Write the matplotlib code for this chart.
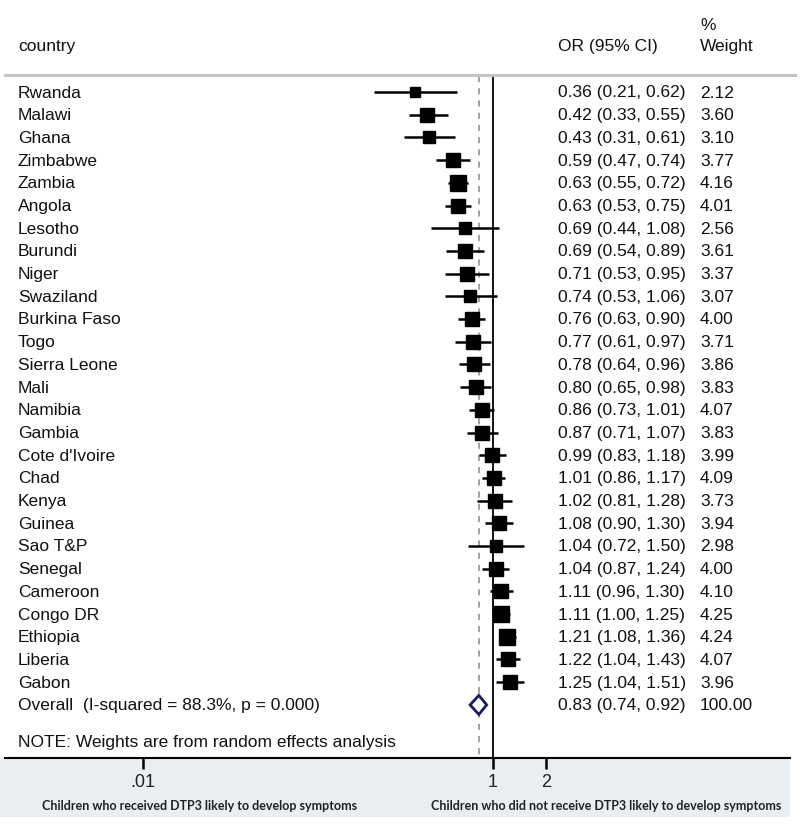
import numpy as np
import matplotlib
matplotlib.use('Agg')
import matplotlib.pyplot as plt
from matplotlib.patches import Polygon, Rectangle
from matplotlib.lines import Line2D
from matplotlib.transforms import blended_transform_factory

plt.rcParams['font.family'] = ['Liberation Sans', 'DejaVu Sans']

countries = ['Rwanda', 'Malawi', 'Ghana', 'Zimbabwe', 'Zambia', 'Angola',
             'Lesotho', 'Burundi', 'Niger', 'Swaziland', 'Burkina Faso',
             'Togo', 'Sierra Leone', 'Mali', 'Namibia', 'Gambia',
             "Cote d'Ivoire", 'Chad', 'Kenya', 'Guinea', 'Sao T&P',
             'Senegal', 'Cameroon', 'Congo DR', 'Ethiopia', 'Liberia',
             'Gabon']
odds = [0.36, 0.42, 0.43, 0.59, 0.63, 0.63, 0.69, 0.69, 0.71, 0.74, 0.76,
        0.77, 0.78, 0.80, 0.86, 0.87, 0.99, 1.01, 1.02, 1.08, 1.04, 1.04,
        1.11, 1.11, 1.21, 1.22, 1.25]
lower = [0.21, 0.33, 0.31, 0.47, 0.55, 0.53, 0.44, 0.54, 0.53, 0.53, 0.63,
         0.61, 0.64, 0.65, 0.73, 0.71, 0.83, 0.86, 0.81, 0.90, 0.72, 0.87,
         0.96, 1.00, 1.08, 1.04, 1.04]
upper = [0.62, 0.55, 0.61, 0.74, 0.72, 0.75, 1.08, 0.89, 0.95, 1.06, 0.90,
         0.97, 0.96, 0.98, 1.01, 1.07, 1.18, 1.17, 1.28, 1.30, 1.50, 1.24,
         1.30, 1.25, 1.36, 1.43, 1.51]
weights = [2.12, 3.60, 3.10, 3.77, 4.16, 4.01, 2.56, 3.61, 3.37, 3.07, 4.00,
           3.71, 3.86, 3.83, 4.07, 3.83, 3.99, 4.09, 3.73, 3.94, 2.98, 4.00,
           4.10, 4.25, 4.24, 4.07, 3.96]
overall = (0.83, 0.74, 0.92)
overall_label = 'Overall  (I-squared = 88.3%, p = 0.000)'
xticks = [0.01, 1, 2]
xtick_labels = ['.01', '1', '2']

W, H = 800, 837
fig = plt.figure(figsize=(W / 100, H / 100), dpi=100)

ax_left, ax_right = 5 / W, 790 / W
ax_w_px, ax_h_px = 785, 759
ax = fig.add_axes([ax_left, (H - 759) / H, ax_right - ax_left, ax_h_px / H])
ax.patch.set_alpha(0)

# light band behind the axis labels
fig.patches.append(Rectangle((0, (H - 818) / H), 790 / W, 59 / H,
                             transform=fig.transFigure, facecolor='#e9eef2',
                             edgecolor='none', zorder=-5))

# 175 px per decade, 1 sits at x=493
ppd = 175.0
ax.set_xscale('log')
ax.set_xlim(10 ** ((5 - 493) / ppd), 10 ** ((790 - 493) / ppd))
row_px = 22.7
ax.set_ylim((759 - 93) / row_px, -93 / row_px)

for s in ['top', 'right', 'left']:
    ax.spines[s].set_visible(False)
ax.spines['bottom'].set_linewidth(1.5)
ax.set_yticks([])
ax.set_xticks(xticks)
ax.set_xticklabels(xtick_labels)
ax.xaxis.set_minor_locator(matplotlib.ticker.NullLocator())
ax.tick_params(axis='x', length=0, pad=11, labelsize=13,
               labelcolor='#222222')
# tick marks below the axis line, drawn at figure level
tick_trans = blended_transform_factory(ax.transData, fig.transFigure)
for t in xticks:
    fig.add_artist(Line2D([t, t], [(H - 759) / H, (H - 770) / H],
                          transform=tick_trans, color='black', lw=1.8,
                          solid_capstyle='butt', zorder=10))

n = len(countries)
rows = np.arange(n)
top_row = -0.72

# reference lines
ax.plot([1, 1], [top_row, ax.get_ylim()[0]], color='black', lw=1.3, zorder=1)
ax.plot([overall[0], overall[0]], [top_row, ax.get_ylim()[0]],
        color='#888888', lw=1.1, ls=(0, (4, 4)), zorder=1)

# study rows
for i in range(n):
    ax.plot([lower[i], upper[i]], [rows[i], rows[i]], color='black',
            lw=1.8, solid_capstyle='butt', zorder=3)
    ax.plot(odds[i], rows[i], marker='s', color='black',
            ms=5.3 * np.sqrt(weights[i]), zorder=4)

# overall diamond
yo = n
dh = 0.42
ax.add_patch(Polygon([(overall[1], yo), (overall[0], yo - dh),
                      (overall[2], yo), (overall[0], yo + dh)],
                     closed=True, facecolor='white', edgecolor='#1b1b55',
                     lw=2, zorder=5))

# text columns
trans = ax.get_yaxis_transform()
fs = 12.5
tc = '#111111'
tx_name = (18 - 5) / ax_w_px
tx_or = (558 - 5) / ax_w_px
tx_w = (700 - 5) / ax_w_px
for i in range(n):
    ax.text(tx_name, rows[i], countries[i], transform=trans, fontsize=fs,
            va='center', ha='left', color=tc)
    ax.text(tx_or, rows[i], f'{odds[i]:.2f} ({lower[i]:.2f}, {upper[i]:.2f})',
            transform=trans, fontsize=fs, va='center', ha='left', color=tc)
    ax.text(tx_w, rows[i], f'{weights[i]:.2f}', transform=trans,
            fontsize=fs, va='center', ha='left', color=tc)
ax.text(tx_name, yo, overall_label, transform=trans, fontsize=fs,
        va='center', ha='left', color=tc)
ax.text(tx_or, yo, f'{overall[0]:.2f} ({overall[1]:.2f}, {overall[2]:.2f})',
        transform=trans, fontsize=fs, va='center', ha='left', color=tc)
ax.text(tx_w, yo, '100.00', transform=trans, fontsize=fs, va='center',
        ha='left', color=tc)
ax.text(tx_name, n + 1.6, 'NOTE: Weights are from random effects analysis',
        transform=trans, fontsize=fs, va='center', ha='left', color=tc)

# header
yh = (47 - 93) / row_px
ax.text(tx_name, yh, 'country', transform=trans, fontsize=fs, va='center',
        ha='left', color=tc)
ax.text(tx_or, yh, 'OR (95% CI)', transform=trans, fontsize=fs,
        va='center', ha='left', color=tc)
ax.text(tx_w, yh, 'Weight', transform=trans, fontsize=fs, va='center',
        ha='left', color=tc)
ax.text(tx_w, (26 - 93) / row_px, '%', transform=trans, fontsize=fs,
        va='center', ha='left', color=tc)
ax.plot([0, 1.006], [top_row - 0.05, top_row - 0.05], transform=trans,
        color='#c4c4c4', lw=2.2, clip_on=False)

# captions under the axis
cap_y = (H - 806) / H
fig.text(200 / W, cap_y, 'Children who received DTP3 likely to develop symptoms',
         ha='center', va='center', fontsize=9, fontweight='bold',
         family=['Lato', 'DejaVu Sans'], color='#222222')
fig.text(606 / W, cap_y,
         'Children who did not receive DTP3 likely to develop symptoms',
         ha='center', va='center', fontsize=9, fontweight='bold',
         family=['Lato', 'DejaVu Sans'], color='#222222')

fig.savefig('out.png', dpi=100)
